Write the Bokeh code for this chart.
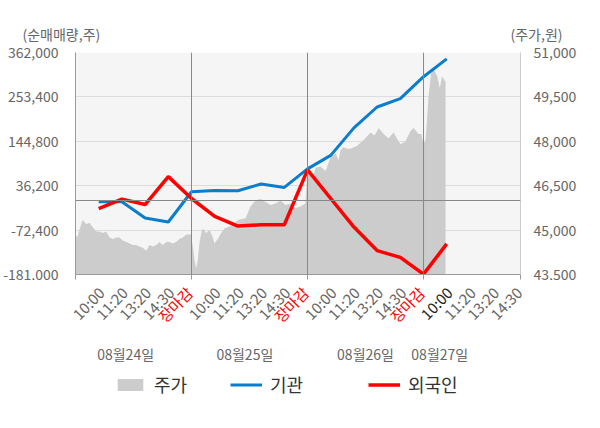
import math
from bokeh.plotting import figure
from bokeh.layouts import column
from bokeh.models import (Range1d, LinearAxis, FixedTicker, Span, ColumnDataSource,
                          Legend, LegendItem, NumeralTickFormatter)
from bokeh.embed import file_html
from bokeh.resources import INLINE
from bokeh.core.properties import value

FONT = "Noto Sans CJK KR"

# ---- data ----
time_labels = ["10:00", "11:20", "13:20", "14:30", "장마감",
               "10:00", "11:20", "13:20", "14:30", "장마감",
               "10:00", "11:20", "13:20", "14:30", "장마감",
               "10:00", "11:20", "13:20", "14:30"]
time_pos = list(range(1, 20))
date_labels = ["08월24일", "08월25일", "08월26일", "08월27일"]
date_pos = [2.16, 7.3, 12.5, 15.7]
close_pos = [5, 10, 15]
x_end = 19.18

left_ticks = [-181000, -72400, 36200, 144800, 253400, 362000]
right_ticks = [43500, 45000, 46500, 48000, 49500, 51000]

inst_pos = list(range(1, 17))
inst = [-3000, -3000, -42800, -52600, 21400, 24600, 24000, 40400, 32000,
        77400, 110300, 177700, 228700, 249200, 302800, 346400]
foreign = [-19800, 3400, -9900, 58400, 4900, -38600, -62500, -59300, -59300,
           75000, 4900, -65000, -122500, -139000, -180200, -106200]

price_pos = [0, 0.07, 0.17, 0.31, 0.46, 0.60, 0.75, 0.89, 1.03, 1.18, 1.32, 1.47,
             1.61, 1.75, 1.90, 2.04, 2.19, 2.33, 2.47, 2.62, 2.76, 2.90, 3.05,
             3.19, 3.33, 3.48, 3.62, 3.76, 3.91, 4.05, 4.19, 4.34, 4.48, 4.63,
             4.77, 4.91, 4.97,
             5.06, 5.13, 5.20, 5.27, 5.34, 5.42, 5.49, 5.63, 5.78, 5.92, 5.99,
             6.13, 6.28, 6.42, 6.56, 6.71, 6.85, 7.03, 7.33, 7.54, 7.76, 7.97,
             8.19, 8.41, 8.62, 8.84, 9.05, 9.27, 9.48, 9.70, 9.91,
             9.99, 10.13, 10.26, 10.34, 10.56, 10.78, 10.99, 11.21, 11.34, 11.42,
             11.55, 11.71, 11.85, 12.14, 12.43, 12.72, 12.89, 13.07, 13.28, 13.49,
             13.71, 13.92, 14.01, 14.22, 14.44, 14.57, 14.78, 14.91, 15.00,
             15.09, 15.16, 15.22, 15.33, 15.44, 15.59, 15.70, 15.80, 15.95]
price = [44850, 44750, 45000, 45350, 45200, 45250, 45100, 44950, 44950, 44900,
         44950, 44750, 44700, 44750, 44750, 44650, 44600, 44550, 44500, 44500,
         44450, 44400, 44300, 44500, 44450, 44500, 44600, 44500, 44600, 44600,
         44550, 44600, 44700, 44750, 44850, 44850, 44850,
         44450, 44000, 43700, 44000, 44550, 44900, 45050, 44900, 45000, 44750,
         44550, 44700, 44900, 45050, 45100, 45150, 45250, 45350, 45400, 45800,
         46000, 46050, 45950, 45850, 45900, 46000, 45850, 45900, 45750, 45800,
         45900,
         46950, 46950, 46800, 47100, 47150, 47000, 47450, 47600, 47350, 47700,
         47800, 47750, 47750, 47850, 48050, 48300, 48200, 48450, 48250, 48100,
         48300, 48000, 47900, 48000, 48350, 48450, 48250, 48250, 47900,
         48050, 48850, 49550, 50300, 50450, 50200, 49800, 50200, 50000]

# ---- layout constants (pixels) ----
FW, FH = 445, 222
BL, BR = 75, 72
W = BL + FW + BR
HEAD_H = 44
FOOT_H = 132

GRAY_TXT = "#666666"
BLUE = "#0a7dcd"
RED = "#ff0000"
AREA = "#cccccc"
NAN = float("nan")

def bare(fig):
    fig.xaxis.visible = False
    fig.yaxis.visible = False
    fig.xgrid.visible = False
    fig.ygrid.visible = False
    fig.outline_line_color = None
    fig.background_fill_color = "white"
    fig.border_fill_color = "white"

# ---- header (axis titles) ----
head = figure(frame_width=W, frame_height=HEAD_H, x_range=Range1d(0, W),
              y_range=Range1d(0, HEAD_H), output_backend="svg", toolbar_location=None,
              min_border=0, frame_align=False)
bare(head)
head.text(x=[22], y=[HEAD_H - 33], text=["(순매매량,주)"], text_align="left",
          text_baseline="middle", text_font=value(FONT), text_font_size="14px",
          text_color=GRAY_TXT)
head.text(x=[562], y=[HEAD_H - 33], text=["(주가,원)"], text_align="right",
          text_baseline="middle", text_font=value(FONT), text_font_size="14px",
          text_color=GRAY_TXT)

# ---- main chart ----
p = figure(frame_width=FW, frame_height=FH, x_range=Range1d(0, x_end),
           y_range=Range1d(left_ticks[0], left_ticks[-1]),
           output_backend="svg", toolbar_location=None,
           min_border_left=BL, min_border_right=BR, min_border_top=8,
           min_border_bottom=6, frame_align=False)
p.background_fill_color = "#f5f5f5"
p.border_fill_color = "white"
p.outline_line_color = None
p.xgrid.visible = False
p.ygrid.ticker = FixedTicker(ticks=left_ticks)
p.ygrid.grid_line_color = "#dddddd"

p.extra_y_ranges = {"price": Range1d(right_ticks[0], right_ticks[-1])}

p.varea(x=price_pos, y1=right_ticks[0], y2=price, y_range_name="price",
        fill_color=AREA)

p.add_layout(Span(location=0, dimension="width", line_color="#888888", line_width=1))
for c in close_pos:
    p.add_layout(Span(location=c, dimension="height", line_color="#888888", line_width=1))

p.line(inst_pos, inst, line_color=BLUE, line_width=3)
p.line(inst_pos, foreign, line_color=RED, line_width=3.5)

ly = p.yaxis[0]
ly.ticker = FixedTicker(ticks=left_ticks)
ly.formatter = NumeralTickFormatter(format="0,0")
ly.major_label_text_font = FONT
ly.major_label_text_font_size = "14px"
ly.major_label_text_color = GRAY_TXT
ly.major_tick_line_color = None
ly.minor_tick_line_color = None
ly.axis_line_color = "#999999"
ly.major_label_standoff = 11

ry = LinearAxis(y_range_name="price", ticker=FixedTicker(ticks=right_ticks),
                formatter=NumeralTickFormatter(format="0,0"))
ry.major_label_text_font = FONT
ry.major_label_text_font_size = "14px"
ry.major_label_text_color = GRAY_TXT
ry.major_tick_line_color = None
ry.minor_tick_line_color = None
ry.axis_line_color = "#cccccc"
ry.major_label_standoff = 7
p.add_layout(ry, "right")

bx = p.xaxis[0]
bx.ticker = FixedTicker(ticks=[0] + close_pos + [x_end])
bx.major_label_overrides = {t: "" for t in [0] + close_pos + [x_end]}
bx.major_label_text_font_size = "1px"
bx.major_label_standoff = 0
bx.major_tick_out = 5
bx.major_tick_in = 0
bx.major_tick_line_color = "#999999"
bx.minor_tick_line_color = None
bx.axis_line_color = "#999999"

# ---- footer (time labels, dates, legend) ----
k = x_end / FW
fx0 = -BL * k
foot = figure(frame_width=W, frame_height=FOOT_H, x_range=Range1d(fx0, fx0 + W * k),
              y_range=Range1d(0, FOOT_H), output_backend="svg", toolbar_location=None,
              min_border=0, frame_align=False)
bare(foot)

colors, dx = [], []
for i, t in enumerate(time_labels):
    if t == "장마감":
        colors.append(RED)
        dx.append(-2)
    elif i == 15:
        colors.append("#222222")
        dx.append(2.5)
    else:
        colors.append(GRAY_TXT)
        dx.append(2.5)
src = ColumnDataSource(dict(x=time_pos, text=time_labels, color=colors, dx=dx))
foot.text(x="x", y=FOOT_H - 9, text="text", text_color="color", source=src,
          x_offset="dx", angle=46 * math.pi / 180, text_align="right",
          text_baseline="middle", text_font=value(FONT), text_font_size="15px")

foot.text(x=date_pos, y=[FOOT_H - 73] * len(date_pos), text=date_labels,
          text_align="center", text_baseline="middle", text_font=value(FONT),
          text_font_size="14px", text_color=GRAY_TXT)

leg_area = foot.varea(x=[NAN], y1=[NAN], y2=[NAN], fill_color=AREA)
leg_blue = foot.line(x=[NAN], y=[NAN], line_color=BLUE, line_width=3)
leg_red = foot.line(x=[NAN], y=[NAN], line_color=RED, line_width=3.5)
for (lab, rend, lx) in [("주가", leg_area, 114), ("기관", leg_blue, 230), ("외국인", leg_red, 368)]:
    leg = Legend(items=[LegendItem(label=lab, renderers=[rend])], location=(lx, 15),
                 orientation="horizontal", border_line_color=None,
                 background_fill_alpha=0, padding=0, margin=0, glyph_width=32,
                 glyph_height=15, label_standoff=8, label_text_font=FONT,
                 label_text_font_size="18px", label_text_color="#333333")
    foot.add_layout(leg)

layout = column(head, p, foot, spacing=0)
open("out.html", "w").write(file_html(layout, INLINE))
